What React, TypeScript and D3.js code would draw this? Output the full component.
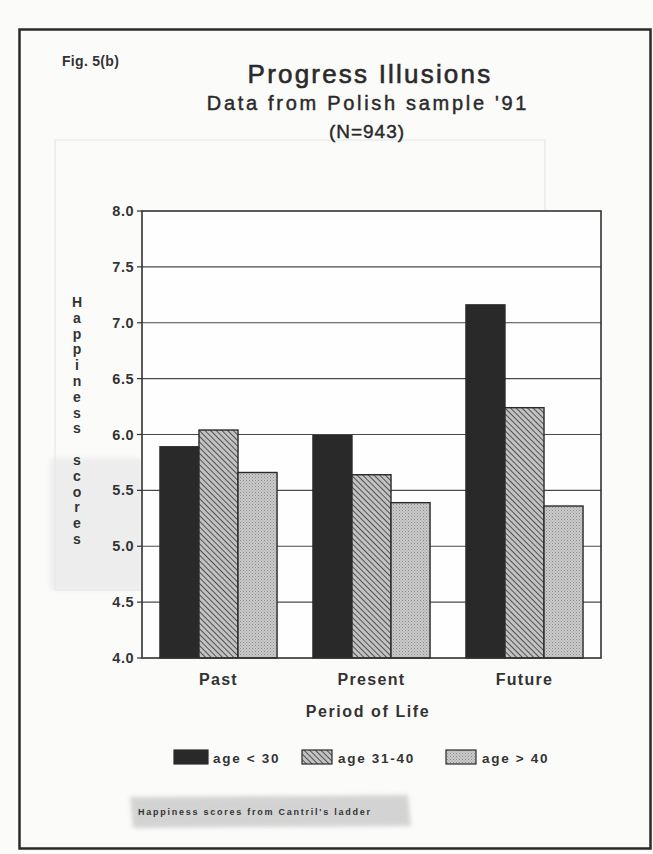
import React from "react";
import * as d3 from "d3";

const periods = ["Past", "Present", "Future"];
const series = ["age < 30", "age 31-40", "age > 40"];
const valuesAgeUnder30 = [5.89, 5.99, 7.16];
const valuesAge31to40 = [6.04, 5.64, 6.24];
const valuesAgeOver40 = [5.66, 5.39, 5.36];
const yTicks = [4.0, 4.5, 5.0, 5.5, 6.0, 6.5, 7.0, 7.5, 8.0];
const yAxisLetters = "Happiness scores".split("");

const W = 653;
const H = 854;
const plot = { left: 142, right: 601, top: 211, bottom: 658 };
const FONT = "'Liberation Sans', Arial, Helvetica, sans-serif";

export default function App() {
  const x = d3.scaleBand<string>().domain(periods).range([plot.left, plot.right]);
  const xs = d3
    .scaleBand<string>()
    .domain(series)
    .range([0, x.bandwidth()])
    .paddingInner(0)
    .paddingOuter(0.46);
  const y = d3.scaleLinear().domain([4, 8]).range([plot.bottom, plot.top]);

  const table = series.map((s, i) => ({
    key: s,
    vals: [valuesAgeUnder30, valuesAge31to40, valuesAgeOver40][i],
  }));
  const fills = ["#292929", "url(#hatch)", "url(#dots)"];

  const legendX = [174, 302, 446];

  return (
    <svg
      width={W}
      height={H}
      style={{ position: "absolute", left: 0, top: 0, background: "#fbfbfa" }}
      fontFamily={FONT}
    >
      <defs>
        <pattern id="hatch" width="4" height="4" patternUnits="userSpaceOnUse" patternTransform="rotate(-45)">
          <rect width="4" height="4" fill="#c2c2c2" />
          <line x1="0" y1="0" x2="0" y2="4" stroke="#2b2b2b" strokeWidth="1.5" />
        </pattern>
        <pattern id="dots" width="3" height="3" patternUnits="userSpaceOnUse">
          <rect width="3" height="3" fill="#cacaca" />
          <rect x="0" y="0" width="1" height="1" fill="#8e8e8e" />
          <rect x="1.5" y="1.5" width="1" height="1" fill="#a0a0a0" />
        </pattern>
        <filter id="blur" x="-10%" y="-30%" width="120%" height="160%">
          <feGaussianBlur stdDeviation="2" />
        </filter>
      </defs>

      {/* faint bleed-through from the reverse page */}
      <g opacity={0.35} fill="none" stroke="#bbb" strokeWidth={1}>
        <rect x={55} y={140} width={490} height={450} />
      </g>
      <rect x={50} y={458} width={92} height={132} fill="#e8e8e8" opacity={0.7} filter="url(#blur)" />

      {/* page frame */}
      <rect x={19.5} y={29.5} width={631} height={819} fill="none" stroke="#2a2a2a" strokeWidth={2.5} />

      {/* titles */}
      <text x={62} y={66} fontSize={14} fontWeight="bold" fill="#333" letterSpacing={0.3}>Fig. 5(b)</text>
      <text x={370} y={83} fontSize={26} textAnchor="middle" fill="#2a2a2a" stroke="#2a2a2a" strokeWidth={0.6} letterSpacing={2.2}>
        Progress Illusions
      </text>
      <text x={368} y={110} fontSize={20} textAnchor="middle" fill="#2a2a2a" stroke="#2a2a2a" strokeWidth={0.45} letterSpacing={2.7}>
        Data from Polish sample '91
      </text>
      <text x={367} y={138} fontSize={19} textAnchor="middle" fill="#2a2a2a" stroke="#2a2a2a" strokeWidth={0.45} letterSpacing={1}>
        (N=943)
      </text>

      {/* plot background */}
      <rect x={plot.left} y={plot.top} width={plot.right - plot.left} height={plot.bottom - plot.top} fill="#fefefe" />

      {/* gridlines */}
      {yTicks.slice(1, -1).map((t) => (
        <line key={t} x1={plot.left} x2={plot.right} y1={y(t)} y2={y(t)} stroke="#4a4a4a" strokeWidth={1.1} />
      ))}

      {/* y tick marks and labels */}
      {yTicks.map((t) => (
        <g key={"t" + t}>
          <line x1={plot.left - 5} x2={plot.left} y1={y(t)} y2={y(t)} stroke="#333" strokeWidth={1.2} />
          <text x={plot.left - 8} y={y(t) + 5} fontSize={14.5} fontWeight="bold" textAnchor="end" fill="#333" letterSpacing={0.5}>
            {t.toFixed(1)}
          </text>
        </g>
      ))}

      {/* bars */}
      {table.map((s, si) => (
        <g key={s.key}>
          {periods.map((p, pi) => (
            <rect
              key={p}
              x={(x(p) as number) + (xs(s.key) as number)}
              y={y(s.vals[pi])}
              width={xs.bandwidth()}
              height={y(4) - y(s.vals[pi])}
              fill={fills[si]}
              stroke="#2a2a2a"
              strokeWidth={1.4}
            />
          ))}
        </g>
      ))}

      {/* plot border */}
      <rect
        x={plot.left}
        y={plot.top}
        width={plot.right - plot.left}
        height={plot.bottom - plot.top}
        fill="none"
        stroke="#333"
        strokeWidth={1.6}
      />

      {/* x labels */}
      {periods.map((p) => (
        <text
          key={p}
          x={(x(p) as number) + x.bandwidth() / 2}
          y={685}
          fontSize={16}
          fontWeight="bold"
          textAnchor="middle"
          fill="#333"
          letterSpacing={1.3}
        >
          {p}
        </text>
      ))}
      <text x={368} y={717} fontSize={16} fontWeight="bold" textAnchor="middle" fill="#333" letterSpacing={1.6}>
        Period of Life
      </text>

      {/* y axis label, stacked letters */}
      {yAxisLetters.map((c, i) => (
        <text key={i} x={77} y={307 + i * 15.8} fontSize={14} fontWeight="bold" textAnchor="middle" fill="#333">
          {c}
        </text>
      ))}

      {/* legend */}
      {series.map((s, i) => (
        <g key={s}>
          <rect x={legendX[i]} y={750} width={i === 0 ? 34 : 30} height={14} fill={fills[i]} stroke="#2a2a2a" strokeWidth={1.2} />
          <text x={legendX[i] + (i === 0 ? 39 : 36)} y={763} fontSize={13.5} fontWeight="bold" fill="#333" letterSpacing={1.7}>
            {s}
          </text>
        </g>
      ))}

      {/* footnote banner */}
      <path d="M130,797 L408,795 L411,826 L133,828 Z" fill="#cdcdcd" opacity={0.85} filter="url(#blur)" />
      <text x={138} y={815} fontSize={9} fontWeight="bold" fill="#333" letterSpacing={1.75}>
        Happiness scores from Cantril's ladder
      </text>
    </svg>
  );
}
